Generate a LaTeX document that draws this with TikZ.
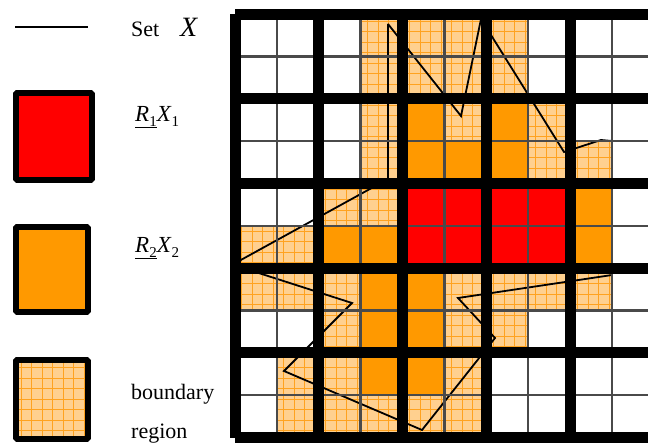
\documentclass[tikz,border=0pt]{standalone}
\usepackage{fontspec}
\setmainfont{Liberation Serif}
\usepackage{xcolor}
\usepackage{tikz}
\definecolor{RSred}{HTML}{FF0000}
\definecolor{RSorange}{HTML}{FF9900}
\definecolor{RSpeach}{HTML}{FFD08F}
\definecolor{RSmesh}{HTML}{FFA21F}
\definecolor{RSthin}{HTML}{4A4A4A}
\newcommand{\lowsub}[1]{\raisebox{-5pt}{\fontsize{15}{15}\selectfont\upshape #1}}
\tikzset{
  setline/.style={draw=black, line width=1.8pt, line join=miter, miter limit=3},
  legendbox/.style={draw=black, line width=6pt, line join=bevel},
  legendtext/.style={anchor=base west, inner sep=0pt, font=\fontsize{22}{26}\selectfont},
  meshline/.style={draw=RSmesh, line width=0.8pt},
  thinrule/.style={draw=RSthin, line width=2.5pt, line cap=butt},
  thickrule/.style={draw=black, line width=11pt, line cap=butt}
}

\begin{document}
\begin{tikzpicture}[x=1pt, y=-1pt]
\useasboundingbox (0,0) rectangle (648,445);
% legend
\draw[setline] (15,26.7) -- (88,26.7);
\node[legendtext] (setname) at (131,36) {Set};
\node[legendtext, font=\fontsize{28}{30}\selectfont\itshape] (setsym) at (180,36) {X};
\draw[legendbox, fill=RSred] (16,93) rectangle (92,180);
\node[legendtext, font=\fontsize{23}{26}\selectfont] (lowerapx) at (135,121)
  {\underline{\textit{R}\lowsub{1}}\textit{X}\lowsub{1}};
\draw[legendbox, fill=RSorange] (16,227) rectangle (88,312);
\node[legendtext, font=\fontsize{23}{26}\selectfont] (upperapx) at (135,252)
  {\underline{\textit{R}\lowsub{2}}\textit{X}\lowsub{2}};
\fill[RSpeach] (16,360) rectangle (88,439);
\draw[meshline] (16,360) grid[step=10.5pt] (88,439);
\draw[legendbox] (16,360) rectangle (88,439);
\node[legendtext] (bndword) at (131,399) {boundary};
\node[legendtext] (regword) at (131,438) {region};
% universe grid
\begin{scope}
\clip (0,0) rectangle (648,445);
\foreach \c/\r in {4/4,5/4,6/4,7/4,4/5,5/5,6/5,7/5}
  \fill[RSred] ({235+41.875*\c},{14+42.35*\r}) rectangle ++(41.875,42.35);
\foreach \c/\r in {4/2,6/2,4/3,5/3,6/3,8/4,2/5,3/5,8/5,3/6,4/6,3/7,4/7,3/8,4/8}
  \fill[RSorange] ({235+41.875*\c},{14+42.35*\r}) rectangle ++(41.875,42.35);
\foreach \c/\r in {3/0,4/0,5/0,6/0,3/1,4/1,5/1,6/1,3/2,5/2,7/2,3/3,7/3,8/3,2/4,3/4,
    0/5,1/5,0/6,1/6,2/6,5/6,6/6,7/6,8/6,2/7,5/7,6/7,1/8,2/8,5/8,1/9,2/9,3/9,4/9,5/9} {
  \fill[RSpeach] ({235+41.875*\c},{14+42.35*\r}) rectangle ++(41.875,42.35);
  \draw[meshline] ({235+41.875*\c},{14+42.35*\r}) grid[step=10.5pt] ++(41.875,42.35);
}
% set X
\draw[setline] (388,24) -- (461,116) -- (481,19) -- (564,152) -- (601,140) -- (612,141)
  -- (612,275) -- (458,298) -- (495,338) -- (422,430) -- (284,371) -- (352,303)
  -- (240,267) -- (239,261) -- (388,179) -- cycle;
\foreach \k in {0,...,4} {
  \draw[thinrule] ({235+83.75*\k+41.875},14) -- ++(0,423.5);
  \draw[thinrule] (235,{14+84.7*\k+42.35}) -- ++(418.75,0);
}
\foreach \k in {0,...,5} {
  \draw[thickrule] ({235+83.75*\k},14) -- ++(0,423.5);
  \draw[thickrule] (235,{14+84.7*\k}) -- ++(418.75,0);
}
\end{scope}
\end{tikzpicture}
\end{document}
